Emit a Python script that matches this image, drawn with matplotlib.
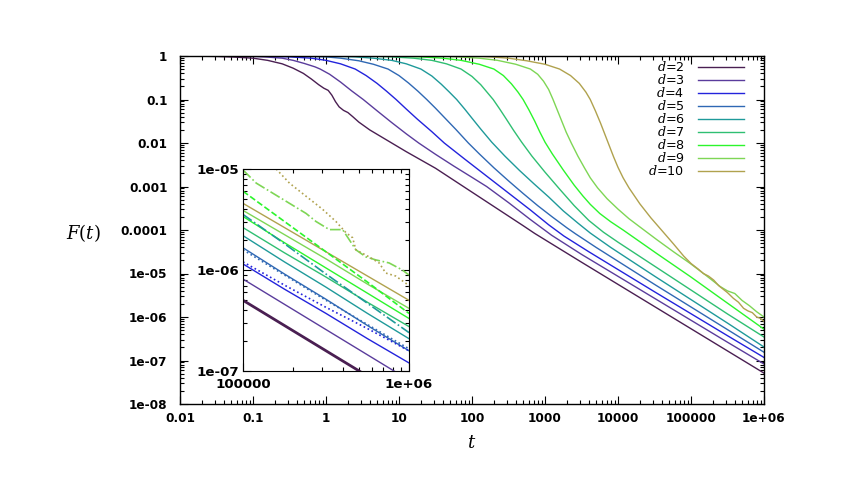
import numpy as np
import matplotlib
matplotlib.use("Agg")
import matplotlib.pyplot as plt
from matplotlib.ticker import LogLocator, FixedLocator, FixedFormatter, NullFormatter

plt.rcParams['font.family'] = ['DejaVu Sans']
plt.rcParams['mathtext.fontset'] = 'dejavuserif'

# ---------------- data (log10 t, log10 F) ----------------
labels = ["$d$=2", "$d$=3", "$d$=4", "$d$=5", "$d$=6", "$d$=7", "$d$=8", "$d$=9", "$d$=10"]
colors = ["#4a1f52", "#5a3c9c", "#2323dc", "#2f68b4", "#1f9a9a", "#2fbf72", "#2cf52c", "#7ed655", "#b0a24e"]

d2_logt = [-2, -1.5, -1.25, -1.0, -0.8, -0.6, -0.45, -0.31, -0.2, -0.1, -0.03, 0.03, 0.08, 0.13, 0.18,
           0.24, 0.30, 0.37, 0.45, 0.6, 0.75, 0.9, 1.1, 1.3, 1.5, 1.7, 1.9, 2.1, 2.3, 2.5, 2.7, 2.86,
           3.5, 4.5, 5.5, 6.0]
d2_logF = [0, -0.01, -0.025, -0.05, -0.1, -0.18, -0.28, -0.40, -0.53, -0.66, -0.74, -0.79, -0.9, -1.05, -1.17,
           -1.25, -1.30, -1.40, -1.52, -1.70, -1.85, -2.0, -2.2, -2.39, -2.58, -2.8, -3.02, -3.24, -3.46,
           -3.68, -3.9, -4.08, -4.74, -5.76, -6.78, -7.29]

d3_logt = [-2, -1.5, -1.0, -0.8, -0.6, -0.45, -0.3, -0.15, -0.08, 0.05, 0.2, 0.35, 0.51, 0.7, 0.9, 1.1,
           1.27, 1.5, 1.75, 2.0, 2.2, 2.5, 2.8, 3.09, 3.5, 4.5, 5.5, 6.0]
d3_logF = [0, 0, -0.01, -0.025, -0.05, -0.1, -0.17, -0.25, -0.3, -0.42, -0.6, -0.8, -1.0, -1.26, -1.53, -1.79,
           -2.0, -2.26, -2.53, -2.79, -3.0, -3.37, -3.76, -4.12, -4.56, -5.57, -6.58, -7.08]

d4_logt = [-2, -1.0, -0.5, -0.2, 0.0, 0.2, 0.4, 0.55, 0.7, 0.83, 0.96, 1.1, 1.25, 1.45, 1.62, 1.9, 2.2,
           2.5, 2.8, 3.05, 3.26, 3.6, 4.5, 5.5, 6.0]
d4_logF = [0, 0, -0.02, -0.05, -0.1, -0.18, -0.3, -0.45, -0.63, -0.81, -1.0, -1.22, -1.45, -1.74, -2.0, -2.37,
           -2.76, -3.15, -3.54, -3.88, -4.14, -4.5, -5.42, -6.43, -6.93]

d5_logt = [-2, -0.5, 0.0, 0.2, 0.45, 0.65, 0.85, 1.0, 1.13, 1.26, 1.38, 1.5, 1.62, 1.78, 1.95, 2.1, 2.3,
           2.5, 2.7, 2.9, 3.1, 3.3, 3.42, 3.7, 4.5, 5.5, 6.0]
d5_logF = [0, 0, -0.02, -0.05, -0.11, -0.19, -0.3, -0.45, -0.62, -0.81, -1.0, -1.2, -1.41, -1.69, -2.0, -2.25,
           -2.57, -2.87, -3.16, -3.44, -3.7, -3.95, -4.09, -4.4, -5.25, -6.29, -6.81]

d6_logt = [-2, 0.0, 0.4, 0.65, 0.9, 1.1, 1.3, 1.45, 1.58, 1.69, 1.79, 1.9, 2.0, 2.12, 2.27, 2.45, 2.65,
           2.85, 3.05, 3.25, 3.45, 3.62, 3.9, 4.5, 5.5, 6.0]
d6_logF = [0, 0, -0.02, -0.05, -0.1, -0.18, -0.3, -0.46, -0.65, -0.83, -1.0, -1.22, -1.43, -1.68, -1.98, -2.3,
           -2.63, -2.94, -3.24, -3.56, -3.84, -4.07, -4.4, -5.06, -6.14, -6.69]

d7_logt = [-2, 0.5, 0.9, 1.2, 1.45, 1.65, 1.85, 2.0, 2.12, 2.21, 2.29, 2.38, 2.47, 2.57, 2.68, 2.82, 3.0,
           3.2, 3.4, 3.6, 3.8, 4.0, 4.4, 5.0, 5.5, 6.0]
d7_logF = [0, 0, -0.02, -0.05, -0.1, -0.18, -0.3, -0.47, -0.66, -0.84, -1.0, -1.22, -1.45, -1.71, -1.98, -2.3,
           -2.67, -3.06, -3.44, -3.78, -4.05, -4.28, -4.72, -5.38, -5.93, -6.46]

d8_logt = [-2, 1.0, 1.3, 1.6, 1.85, 2.1, 2.3, 2.43, 2.54, 2.63, 2.70, 2.78, 2.86, 2.93, 3.0, 3.1, 3.25,
           3.4, 3.52, 3.62, 3.75, 3.9, 4.07, 4.53, 4.99, 5.44, 6.0]
d8_logF = [0, 0, -0.02, -0.05, -0.1, -0.19, -0.3, -0.45, -0.64, -0.83, -1.0, -1.24, -1.5, -1.75, -1.98, -2.25,
           -2.62, -2.97, -3.22, -3.41, -3.62, -3.81, -4.0, -4.54, -5.07, -5.61, -6.28]

d9_logt = [-2, 1.5, 1.8, 2.1, 2.35, 2.6, 2.8, 2.9, 2.98, 3.05, 3.11, 3.17, 3.23, 3.29, 3.36, 3.45, 3.54,
           3.62, 3.72, 3.85, 4.0, 4.15, 4.3, 4.53, 4.76, 4.99, 5.21, 5.4, 5.5, 5.6, 5.7, 5.8, 5.9, 6.0]
d9_logF = [0, 0, -0.02, -0.05, -0.1, -0.19, -0.3, -0.42, -0.58, -0.77, -1.0, -1.25, -1.5, -1.75, -2.0, -2.3,
           -2.57, -2.8, -3.03, -3.28, -3.52, -3.74, -3.93, -4.22, -4.5, -4.77, -5.05, -5.3, -5.4, -5.46,
           -5.62, -5.74, -5.88, -6.0]

d10_logt = [-2, 2.0, 2.25, 2.5, 2.75, 3.0, 3.2, 3.35, 3.47, 3.56, 3.62, 3.69, 3.76, 3.82, 3.88, 3.94, 4.0,
            4.07, 4.15, 4.3, 4.45, 4.6, 4.76, 4.9, 5.0, 5.1, 5.17, 5.24, 5.31, 5.38, 5.44, 5.5, 5.58, 5.65,
            5.72, 5.78, 5.84, 5.9, 5.95, 6.0]
d10_logF = [0, 0, -0.02, -0.05, -0.11, -0.19, -0.3, -0.45, -0.63, -0.83, -1.0, -1.26, -1.54, -1.8, -2.06,
            -2.32, -2.56, -2.8, -3.03, -3.4, -3.72, -4.01, -4.32, -4.6, -4.77, -4.9, -5.0, -5.06, -5.15,
            -5.28, -5.36, -5.44, -5.57, -5.66, -5.8, -5.86, -5.9, -6.0, -6.03, -6.1]

main_logt = [d2_logt, d3_logt, d4_logt, d5_logt, d6_logt, d7_logt, d8_logt, d9_logt, d10_logt]
main_logF = [d2_logF, d3_logF, d4_logF, d5_logF, d6_logF, d7_logF, d8_logF, d9_logF, d10_logF]

# inset: solid curves
inset_logt = [5.0, 5.25, 5.5, 5.75, 6.0]
inset_solid = [
    [-6.30, -6.55, -6.80, -7.05, -7.30],
    [-6.09, -6.34, -6.59, -6.84, -7.09],
    [-5.94, -6.19, -6.43, -6.68, -6.92],
    [-5.78, -6.04, -6.29, -6.55, -6.80],
    [-5.66, -5.92, -6.17, -6.43, -6.68],
    [-5.58, -5.83, -6.07, -6.32, -6.56],
    [-5.47, -5.73, -5.98, -6.23, -6.48],
    [-5.41, -5.65, -5.89, -6.14, -6.38],
    [-5.34, -5.58, -5.82, -6.06, -6.30],
]
# inset: broken-line companions
comp_idx = [2, 3, 4, 6]
comp_style = [":", ":", "-.", "--"]
comp_logF = [
    [-5.92, -6.15, -6.37, -6.58, -6.80],
    [-5.80, -6.05, -6.30, -6.54, -6.78],
    [-5.45, -5.74, -6.04, -6.33, -6.62],
    [-5.22, -5.52, -5.82, -6.12, -6.43],
]
d9_noisy_logt = [5.0, 5.08, 5.18, 5.28, 5.38, 5.44, 5.52, 5.60, 5.64, 5.68, 5.74, 5.80, 5.88, 5.96, 6.0]
d9_noisy_logF = [-5.01, -5.14, -5.24, -5.34, -5.44, -5.52, -5.60, -5.60, -5.70, -5.80, -5.87, -5.90, -5.93, -6.00, -6.05]
d10_noisy_logt = [5.20, 5.28, 5.38, 5.48, 5.56, 5.62, 5.66, 5.68, 5.76, 5.82, 5.86, 5.92, 5.98, 6.0]
d10_noisy_logF = [-5.00, -5.14, -5.27, -5.40, -5.52, -5.63, -5.68, -5.80, -5.87, -5.93, -6.03, -6.06, -6.13, -6.16]

xticks = [1e-2, 1e-1, 1, 10, 100, 1000, 1e4, 1e5, 1e6]
xticklabels = ["0.01", "0.1", "1", "10", "100", "1000", "10000", "100000", "1e+06"]
yticks = [1e-8, 1e-7, 1e-6, 1e-5, 1e-4, 1e-3, 1e-2, 1e-1, 1]
yticklabels = ["1e-08", "1e-07", "1e-06", "1e-05", "0.0001", "0.001", "0.01", "0.1", "1"]

# ---------------- figure ----------------
fig = plt.figure(figsize=(8.62, 4.79), dpi=100)
ax = fig.add_axes([180 / 862, 1 - 404 / 479, 584 / 862, 348 / 479])

for lt, lf, c, lab in zip(main_logt, main_logF, colors, labels):
    ax.plot(10.0 ** np.array(lt), 10.0 ** np.array(lf), color=c, lw=1.0, label=lab)

ax.set_xscale("log")
ax.set_yscale("log")
ax.set_xlim(1e-2, 1e6)
ax.set_ylim(1e-8, 1)

ax.xaxis.set_major_locator(FixedLocator(xticks))
ax.xaxis.set_major_formatter(FixedFormatter(xticklabels))
ax.yaxis.set_major_locator(FixedLocator(yticks))
ax.yaxis.set_major_formatter(FixedFormatter(yticklabels))
for a in (ax.xaxis, ax.yaxis):
    a.set_minor_locator(LogLocator(base=10, subs=np.arange(2, 10), numticks=20))
    a.set_minor_formatter(NullFormatter())
ax.tick_params(which="both", direction="in", top=True, right=True, width=0.8)
ax.tick_params(which="major", length=6)
ax.tick_params(which="minor", length=3)
ax.tick_params(axis="y", which="major", pad=9)
ax.tick_params(axis="x", which="major", pad=6)
for lab in ax.get_xticklabels() + ax.get_yticklabels():
    lab.set_fontweight("bold")
    lab.set_fontsize(8.7)
for s in ax.spines.values():
    s.set_linewidth(1.0)

ax.set_xlabel("$t$", fontsize=13, labelpad=6)
ax.set_ylabel("$F(t)$", fontsize=13, rotation=0, va="center", ha="center")
ax.yaxis.set_label_coords(-0.166, 0.49)

leg = ax.legend(loc="upper right", bbox_to_anchor=(0.9658, 0.988), frameon=False,
                markerfirst=False, fontsize=9.2, handlelength=3.6, handletextpad=1.05,
                labelspacing=-0.08, borderpad=0, borderaxespad=0)

# ---------------- inset ----------------
ins = fig.add_axes([243 / 862, 1 - 371 / 479, 166 / 862, 202 / 479])
t_in = 10.0 ** np.array(inset_logt)
for i, (vals, c) in enumerate(zip(inset_solid, colors)):
    ins.plot(t_in, 10.0 ** np.array(vals), color=c, lw=2.0 if i == 0 else 1.0)
for idx, st, vals in zip(comp_idx, comp_style, comp_logF):
    ins.plot(t_in, 10.0 ** np.array(vals), color=colors[idx], lw=1.2, ls=st)
ins.plot(10.0 ** np.array(d9_noisy_logt), 10.0 ** np.array(d9_noisy_logF), color=colors[7], lw=1.2, ls="-.")
ins.plot(10.0 ** np.array(d10_noisy_logt), 10.0 ** np.array(d10_noisy_logF), color=colors[8], lw=1.2, ls=":")

ins.set_xscale("log")
ins.set_yscale("log")
ins.set_xlim(1e5, 1e6)
ins.set_ylim(1e-7, 1e-5)
ins.xaxis.set_major_locator(FixedLocator([1e5, 1e6]))
ins.xaxis.set_major_formatter(FixedFormatter(["100000", "1e+06"]))
ins.yaxis.set_major_locator(FixedLocator([1e-7, 1e-6, 1e-5]))
ins.yaxis.set_major_formatter(FixedFormatter(["1e-07", "1e-06", "1e-05"]))
for a in (ins.xaxis, ins.yaxis):
    a.set_minor_locator(LogLocator(base=10, subs=np.arange(2, 10), numticks=20))
    a.set_minor_formatter(NullFormatter())
ins.tick_params(which="both", direction="in", top=True, right=True, width=0.8)
ins.tick_params(which="major", length=6, pad=3)
ins.tick_params(axis="x", which="major", pad=5)
ins.tick_params(which="minor", length=3)
for lab in ins.get_xticklabels() + ins.get_yticklabels():
    lab.set_fontweight("bold")
    lab.set_fontsize(9.6)

fig.savefig("out.png", dpi=100)
